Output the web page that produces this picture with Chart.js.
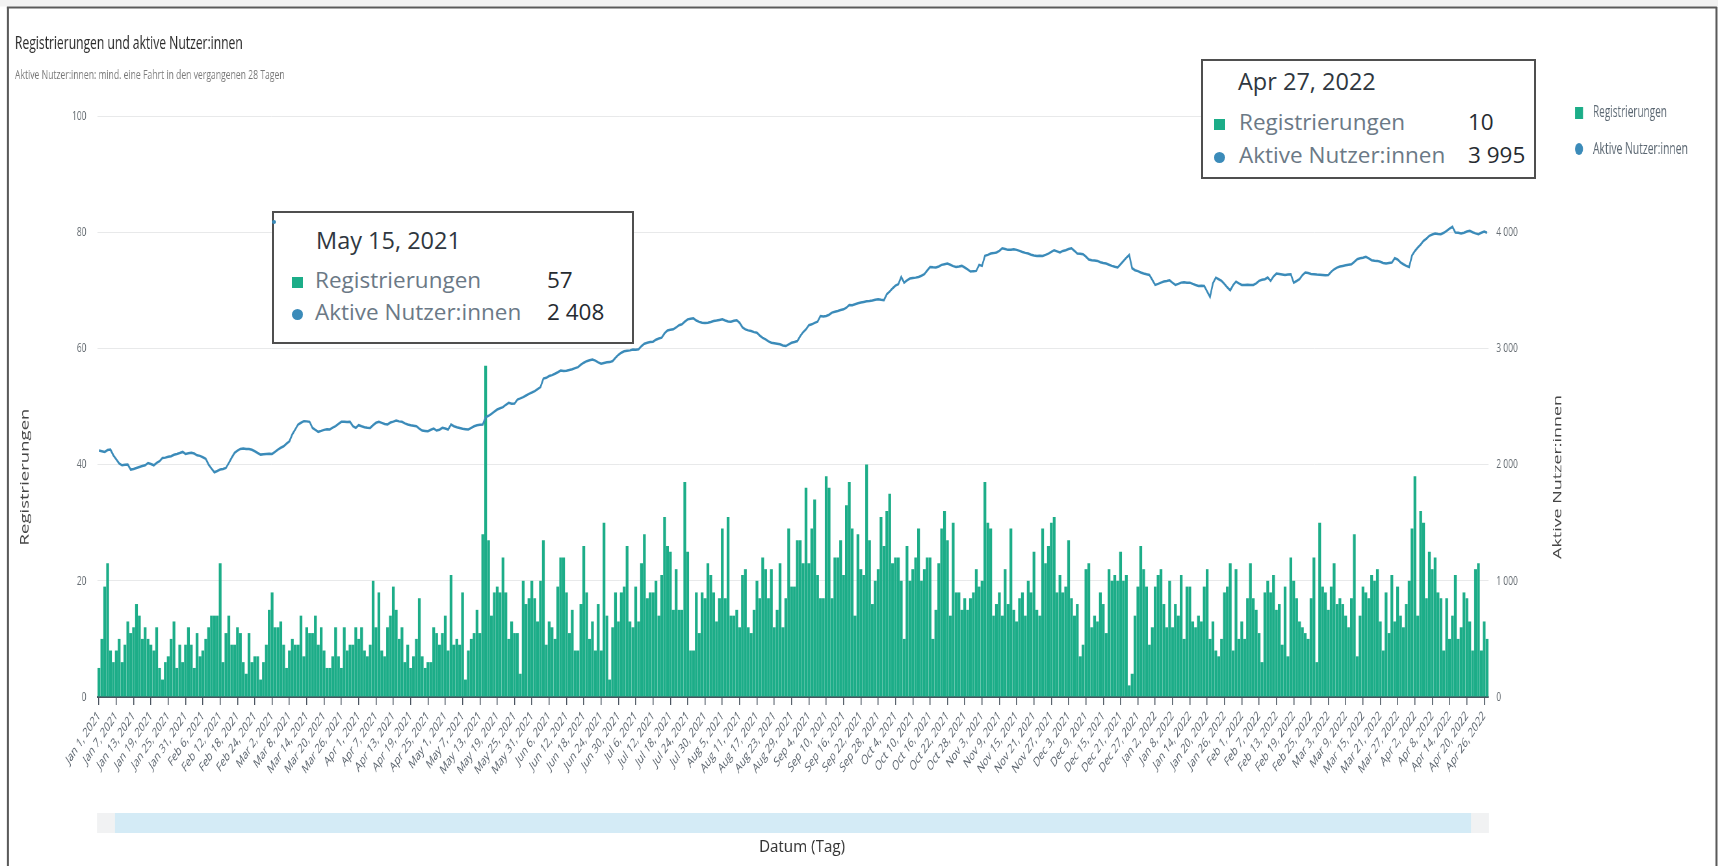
<!DOCTYPE html>
<html><head><meta charset="utf-8">
<script src="https://cdn.jsdelivr.net/npm/chart.js@4.4.1/dist/chart.umd.min.js"></script>
<style>
html,body{margin:0;padding:0;background:#fff;overflow:hidden;}
#wrap{position:relative;width:1718px;height:866px;overflow:hidden;background:#fff;}
#squeeze{position:absolute;left:0;top:0;transform-origin:0 0;}
#c{display:block;}
.tt{position:absolute;background:#fff;border:2px solid #4f4f4f;box-sizing:border-box;}
.tx{position:absolute;white-space:nowrap;line-height:1;font-family:'Open Sans',sans-serif;}
.mk{position:absolute;}
</style></head><body>
<div id="wrap"><div id="squeeze"><canvas id="c"></canvas></div><div id="ov"></div></div>
<script>
// ---------------- DATA ----------------
const registrations = [
5,10,19,23,8,6,8,10,6,9,13,11,12,16,14,10,12,10,9,8,12,5,3,6,7,10,13,5,9,6,9,12,9,5,11,7,8,10,12,14,14,14,23,
6,11,14,9,9,12,11,6,4,11,6,7,7,3,6,9,15,18,12,12,13,9,5,8,10,9,9,14,7,12,11,11,14,9,12,8,5,
5,7,12,7,5,12,8,9,9,12,10,12,8,7,9,20,12,18,8,7,12,14,19,15,10,12,6,9,5,7,10,17,7,5,6,6,12,11,9,11,14,8,21,9,10,9,18,3,8,10,11,15,11,28,57,
27,14,18,19,18,24,18,10,13,11,11,4,20,16,17,20,17,13,20,27,9,13,12,10,19,24,
24,18,11,15,8,8,16,26,18,10,13,8,16,8,30,14,3,12,18,13,18,19,26,13,12,19,13,23,28,17,18,18,20,14,21,31,26,25,15,22,15,15,37,
25,8,8,18,11,18,17,23,21,18,13,17,29,17,31,14,14,15,12,21,22,12,11,15,20,17,24,22,17,22,12,15,23,12,17,29,19,19,27,
27,23,36,23,29,34,21,17,17,38,36,17,24,24,27,21,33,37,29,14,28,22,21,40,27,16,20,22,31,26,32,35,23,24,24,20,10,26,20,22,
24,29,20,22,24,24,10,15,23,29,32,27,14,30,18,18,15,17,15,17,18,22,19,20,37,30,29,14,16,18,14,22,16,29,15,13,17,18,14,20,18,25,
15,14,29,23,26,30,31,18,21,18,19,27,17,14,16,7,9,22,23,12,14,13,18,16,11,22,20,21,20,25,20,21,2,
4,14,19,26,22,19,9,12,19,21,22,16,12,20,12,16,14,21,10,19,19,13,12,14,13,19,22,10,13,8,7,10,18,19,23,8,22,10,13,10,17,23,17,15,11,6,18,20,
18,21,15,16,9,19,7,24,20,17,13,12,11,10,17,24,6,30,19,18,15,19,23,16,17,16,14,12,17,28,7,14,19,18,17,21,20,22,13,8,18,11,21,13,19,14,12,16,20,29,38,
14,32,30,17,25,22,24,18,17,8,17,10,14,21,10,12,18,17,13,8,22,23,8,13,10
];
const activeUsers = [
2121,2115,2109,2125,2129,2080,2045,2010,1994,1998,
2000,1957,1962,1971,1980,1988,1994,2014,2005,1994,
2015,2029,2057,2060,2068,2072,2085,2092,2100,2109,
2092,2098,2101,2095,2080,2075,2063,2050,2000,1965,
1934,1945,1957,1962,1971,2014,2060,2101,2120,2135,
2138,2135,2135,2128,2115,2100,2086,2090,2092,2094,
2092,2110,2129,2145,2158,2180,2201,2260,2302,2345,
2360,2374,2372,2368,2316,2298,2282,2290,2299,2305,
2302,2318,2331,2350,2368,2368,2366,2368,2330,2316,
2339,2330,2322,2318,2316,2340,2360,2368,2359,2350,
2345,2362,2370,2379,2372,2368,2355,2345,2338,2335,
2331,2310,2293,2290,2287,2300,2310,2293,2300,2316,
2310,2302,2345,2330,2322,2315,2308,2305,2302,2316,
2330,2339,2342,2345,2408,2420,2437,2455,2474,2485,
2494,2515,2532,2523,2525,2560,2570,2581,2595,2609,
2620,2632,2650,2667,2740,2747,2762,2770,2782,2795,
2810,2805,2808,2815,2820,2830,2839,2860,2877,2890,
2898,2905,2895,2880,2868,2875,2880,2882,2891,2920,
2945,2963,2975,2980,2983,2990,2988,2992,3020,3040,
3049,3055,3058,3075,3085,3092,3130,3155,3160,3164,
3180,3200,3207,3230,3250,3255,3259,3240,3228,3221,
3218,3221,3228,3236,3240,3245,3250,3240,3232,3230,
3238,3242,3220,3180,3164,3155,3150,3140,3135,3110,
3090,3078,3060,3049,3045,3040,3035,3025,3020,3035,
3049,3055,3063,3106,3140,3164,3200,3207,3220,3230,
3279,3275,3279,3290,3308,3315,3322,3330,3336,3350,
3374,3372,3380,3388,3395,3400,3405,3408,3412,3418,
3423,3418,3414,3466,3490,3517,3540,3552,3615,3566,
3585,3601,3605,3609,3615,3625,3638,3670,3701,3698,
3696,3705,3719,3725,3730,3720,3708,3701,3705,3710,
3696,3680,3661,3665,3667,3719,3710,3796,3805,3816,
3820,3825,3840,3862,3855,3848,3850,3854,3848,3839,
3830,3822,3816,3806,3800,3796,3798,3796,3805,3816,
3830,3845,3835,3825,3839,3845,3855,3862,3840,3816,
3815,3811,3790,3765,3759,3756,3753,3742,3735,3730,
3720,3710,3702,3696,3725,3753,3780,3805,3690,3673,
3665,3653,3645,3638,3632,3590,3546,3555,3566,3575,
3580,3586,3565,3546,3555,3566,3570,3566,3566,3555,
3545,3538,3540,3538,3490,3443,3560,3609,3595,3581,
3555,3525,3500,3545,3575,3560,3546,3546,3548,3546,
3546,3560,3581,3590,3595,3610,3581,3620,3644,3640,
3636,3632,3635,3638,3566,3580,3595,3630,3653,3648,
3640,3638,3635,3634,3632,3630,3632,3660,3681,3695,
3705,3710,3715,3720,3724,3745,3767,3775,3780,3788,
3775,3759,3755,3753,3745,3735,3730,3735,3739,3776,
3765,3740,3724,3710,3701,3800,3839,3868,3895,3926,
3945,3969,3980,3989,3985,3983,3995,4012,4030,4046,
3997,3995,3989,3995,4006,4012,4000,3990,3983,3995,
4006,3995
];
const leftTicks = [0, 20, 40, 60, 80, 100];
const rightTicks = [0, 1000, 2000, 3000, 4000];
const MONTHS = ['Jan','Feb','Mar','Apr','May','Jun','Jul','Aug','Sep','Oct','Nov','Dec'];
const START = Date.UTC(2021, 0, 1);
const dates = registrations.map((_, i) => {
  const d = new Date(START + i * 86400000);
  return `${MONTHS[d.getUTCMonth()]} ${d.getUTCDate()}, ${d.getUTCFullYear()}`;
});
const xTickLabels = dates.filter((_, i) => i % 6 === 0);
const tooltipDates = ['May 15, 2021', 'Apr 27, 2022'];

// ---------------- LAYOUT ----------------
const S = 0.65;                 // horizontal squeeze of the original screenshot
const LW = Math.round(1718 / S);
const LX = v => v / S;          // screen px -> logical px
const AREA = { left: LX(97.5), right: LX(1488.5), top: 116, bottom: 697 };
const GREEN = '#1cad88', BLUE = '#3b8bb9';
const FONT = "'Open Sans', sans-serif";
const fmt = n => String(n).replace(/\B(?=(\d{3})+(?!\d))/g, ' ');

const cv = document.getElementById('c');
cv.width = LW; cv.height = 866;
cv.style.width = LW + 'px'; cv.style.height = '866px';
document.getElementById('squeeze').style.transform = `scaleX(${S})`;

// draws text fitted to a target width; if `size` is given, the font size is kept and the text is stretched
function fitText(c, text, x, y, targetW, weight, color, align, rot, size) {
  c.save();
  c.font = `${weight} ${size || 20}px ${FONT}`;
  const w = c.measureText(text).width;
  let sx = 1;
  if (size) { sx = targetW / w; } else { c.font = `${weight} ${20 * targetW / w}px ${FONT}`; }
  c.fillStyle = color; c.textAlign = align || 'left'; c.textBaseline = 'middle';
  c.translate(x, y); if (rot) c.rotate(rot); c.scale(sx, 1);
  c.fillText(text, 0, 0);
  c.restore();
}

const decor = {
  id: 'decor',
  beforeDraw(chart) {
    const c = chart.ctx; c.save(); c.fillStyle = '#fff'; c.fillRect(0, 0, chart.width, chart.height);
    c.fillStyle = '#f2f2f2'; c.fillRect(0, 0, chart.width, 6.5); c.restore();
  },
  afterDraw(chart) {
    const c = chart.ctx; c.save();
    // frame
    c.strokeStyle = '#5a5a5a';
    c.lineWidth = 2; c.beginPath(); c.moveTo(LX(7), 7.5); c.lineTo(LX(1717), 7.5); c.stroke();
    c.lineWidth = LX(2); c.beginPath(); c.moveTo(LX(8), 7); c.lineTo(LX(8), 866); c.stroke();
    c.beginPath(); c.moveTo(LX(1716.5), 7); c.lineTo(LX(1716.5), 866); c.stroke();
    // title + subtitle
    fitText(c, 'Registrierungen und aktive Nutzer:innen', LX(15), 44, LX(228), 400, '#2b2b2b');
    fitText(c, 'Aktive Nutzer:innen: mind. eine Fahrt in den vergangenen 28 Tagen', LX(15), 75, LX(270), 400, '#7a7a7a');
    // axis titles
    fitText(c, 'Registrierungen', LX(25), 477, 137, 500, '#454545', 'center', -Math.PI / 2);
    fitText(c, 'Aktive Nutzer:innen', LX(1558), 477, 164, 500, '#454545', 'center', -Math.PI / 2);
    fitText(c, 'Datum (Tag)', LX(802), 847, LX(86), 400, '#333', 'center', 0, 17);
    // legend
    c.fillStyle = GREEN; c.fillRect(LX(1575), 107, LX(8), 12);
    fitText(c, 'Registrierungen', LX(1593), 113, LX(74), 400, '#5c6873');
    c.fillStyle = BLUE; c.beginPath(); c.ellipse(LX(1579), 149, LX(4), 6, 0, 0, Math.PI * 2); c.fill();
    fitText(c, 'Aktive Nutzer:innen', LX(1593), 149, LX(95), 400, '#5c6873');
    // range slider
    c.fillStyle = '#f1f2f3'; c.fillRect(LX(97), 813, LX(1392), 20);
    c.fillStyle = '#d4ebf6'; c.fillRect(LX(115), 813, LX(1471 - 115), 20);
    c.restore();
  }
};

Chart.defaults.font.family = FONT;
new Chart(cv, {
  type: 'bar',
  data: {
    labels: dates,
    datasets: [
      { type: 'line', label: 'Aktive Nutzer:innen', data: activeUsers, yAxisID: 'y1',
        borderColor: BLUE, borderWidth: 2.5, pointRadius: 0, tension: 0, order: 0 },
      { type: 'bar', label: 'Registrierungen', data: registrations, yAxisID: 'y',
        backgroundColor: GREEN, borderWidth: 0, barPercentage: 0.96, categoryPercentage: 1, order: 1 }
    ]
  },
  options: {
    responsive: false, animation: false, devicePixelRatio: 1,
    layout: { padding: { left: 0, right: 0, top: AREA.top, bottom: 0 } },
    plugins: { legend: { display: false }, tooltip: { enabled: false }, title: { display: false } },
    scales: {
      x: {
        offset: true,
        afterFit: s => { s.height = 866 - AREA.bottom; },
        grid: { drawOnChartArea: false, drawTicks: true, tickLength: 8, offset: false, color: '#4b5560', lineWidth: 1.5 },
        border: { display: true, color: '#4b5560', width: 2 },
        ticks: { autoSkip: false, minRotation: 45, maxRotation: 45, padding: 3, color: '#5b646e',
                 font: { size: 13.5 },
                 callback: function (v, i) { const l = dates[i]; return xTickLabels.includes(l) ? l : null; } }
      },
      y: {
        position: 'left', min: 0, max: 100,
        afterFit: s => { s.width = AREA.left; },
        afterBuildTicks: s => { s.ticks = leftTicks.map(v => ({ value: v })); },
        grid: { color: '#e8e9ea', lineWidth: 1, drawTicks: false },
        border: { display: false },
        ticks: { padding: 17, color: '#666d73', font: { size: 13 } }
      },
      y1: {
        position: 'right', min: 0, max: 5000,
        afterFit: s => { s.width = LW - AREA.right; },
        afterBuildTicks: s => { s.ticks = rightTicks.map(v => ({ value: v })); },
        grid: { drawOnChartArea: false, drawTicks: false },
        border: { display: false },
        ticks: { padding: 12, color: '#666d73', font: { size: 13 }, callback: v => fmt(v) }
      }
    }
  },
  plugins: [decor]
});

// ---------------- TOOLTIP OVERLAYS (unsqueezed) ----------------
const ov = document.getElementById('ov');
function el(cls, css, text) {
  const d = document.createElement('div'); d.className = cls; Object.assign(d.style, css);
  if (text !== undefined) d.textContent = text; ov.appendChild(d); return d;
}
function tip(t) {
  const i = dates.indexOf(t.date);
  el('tt', { left: t.left + 'px', top: t.top + 'px', width: t.w + 'px', height: t.h + 'px' });
  const txt = (s, x, cy, size, color) => el('tx', { left: x + 'px', top: (cy - size * 0.56) + 'px', fontSize: size + 'px', color }, s);
  txt(t.date, t.titleX, t.titleY, 23.5, '#2f3740');
  el('mk', { left: t.mx + 'px', top: (t.r1 - 5) + 'px', width: '11px', height: '11px', background: GREEN });
  el('mk', { left: t.mx + 'px', top: (t.r2 - 5) + 'px', width: '11px', height: '11px', background: BLUE, borderRadius: '50%' });
  txt('Registrierungen', t.lx, t.r1, 22.5, '#6b7986');
  txt('Aktive Nutzer:innen', t.lx, t.r2, 22.5, '#6b7986');
  txt(fmt(registrations[i]), t.vx, t.r1, 22.5, '#262b31');
  txt(fmt(activeUsers[i]), t.vx, t.r2, 22.5, '#262b31');
}
tip({ date: tooltipDates[0], left: 272, top: 211, w: 362, h: 133, titleX: 316, titleY: 242, mx: 292, lx: 315, vx: 547, r1: 282, r2: 314 });
tip({ date: tooltipDates[1], left: 1201, top: 59, w: 335, h: 120, titleX: 1238, titleY: 83, mx: 1214, lx: 1239, vx: 1468, r1: 124, r2: 157 });
el('mk', { left: '272px', top: '220px', width: '4px', height: '4px', background: BLUE, borderRadius: '50%' });
</script>
</body></html>
